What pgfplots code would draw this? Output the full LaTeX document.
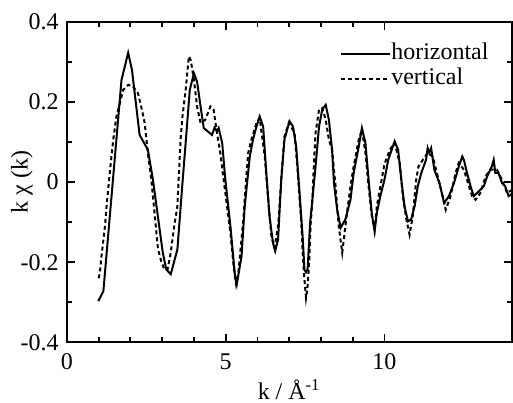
\documentclass[border=0pt]{standalone}
\usepackage{pgfplots}
\pgfplotsset{compat=1.18}
\usepackage{fontspec}
\setmainfont{Liberation Serif}
\begin{document}
\fontsize{12bp}{14bp}\selectfont
\begin{tikzpicture}
\useasboundingbox (-33.5bp,-30bp) rectangle (223.5bp,171.5bp);
\begin{axis}[
    at={(0,0)}, anchor=south west,
    scale only axis,
    width=222.75bp, height=160.5bp,
    xmin=0, xmax=14, ymin=-0.4, ymax=0.4,
    xtick={0,5,10}, xticklabels={0,5,10},
    ytick={-0.4,-0.2,0,0.2,0.4}, yticklabels={-0.4,-0.2,0,0.2,0.4},
    minor x tick num=4, minor y tick num=1,
    major tick length=4bp, minor tick length=2.5bp,
    axis line style={line width=1bp},
    every tick/.style={line width=0.9bp, black},
    xticklabel style={yshift=-1.5bp},
    xlabel={k / Å\textsuperscript{-1}},
    ylabel={k χ (k)},
    xlabel style={at={(axis description cs:0.5,-0.177)}, anchor=base},
    ylabel style={at={(axis description cs:-0.101,0.5)}, anchor=center},
    legend style={draw=none, fill=none, at={(axis description cs:0.601,0.952)}, anchor=north west,
        nodes={inner sep=0pt, text height=9bp, text depth=3.5bp},
        /tikz/every even column/.style={column sep=0pt}},
    legend cell align=left,
    legend image code/.code={\draw[#1] (0bp,0bp) -- (24.5bp,0bp);},
]
\addplot[black, line width=1bp] coordinates {
(0.99,-0.297) (1.15,-0.272) (1.72,0.255) (1.93,0.323) (2.05,0.28) (2.29,0.118)
(2.55,0.081) (2.71,0.006) (3.02,-0.176) (3.13,-0.218) (3.27,-0.230) (3.48,-0.168)
(3.64,-0.002) (3.74,0.098) (3.87,0.23) (4.00,0.272) (4.10,0.251) (4.21,0.189)
(4.31,0.135) (4.57,0.118) (4.65,0.136) (4.73,0.127) (4.78,0.135) (4.89,0.098)
(4.99,0.006) (5.15,-0.11) (5.30,-0.240) (5.35,-0.255) (5.50,-0.185) (5.60,-0.06)
(5.76,0.064) (5.86,0.106) (5.97,0.139) (6.07,0.164) (6.18,0.139) (6.28,0.023)
(6.38,-0.085) (6.49,-0.152) (6.56,-0.172) (6.65,-0.143) (6.75,0.006) (6.85,0.106)
(7.01,0.152) (7.12,0.139) (7.22,0.089) (7.32,-0.019) (7.43,-0.143) (7.48,-0.218)
(7.53,-0.225) (7.58,-0.218) (7.66,-0.10) (7.73,-0.044) (7.83,0.039) (7.94,0.139)
(8.04,0.181) (8.15,0.193) (8.25,0.156) (8.35,0.081) (8.41,-0.002) (8.51,-0.069)
(8.62,-0.114) (8.77,-0.093) (8.93,-0.044) (9.03,0.023) (9.19,0.089) (9.29,0.135)
(9.40,0.098) (9.50,0.006) (9.60,-0.077) (9.69,-0.123) (9.76,-0.077) (9.87,-0.035)
(10.00,0.006) (10.12,0.056) (10.32,0.102) (10.43,0.081) (10.53,0.006) (10.63,-0.06)
(10.74,-0.098) (10.84,-0.093) (10.95,-0.06) (11.05,-0.01) (11.16,0.023) (11.31,0.056)
(11.36,0.085) (11.41,0.073) (11.47,0.085) (11.57,0.031) (11.73,-0.002) (11.88,-0.052)
(12.03,-0.035) (12.19,-0.002) (12.34,0.039) (12.45,0.064) (12.50,0.056) (12.60,0.023)
(12.71,-0.01) (12.81,-0.035) (12.92,-0.027) (13.02,-0.019) (13.13,-0.01) (13.23,0.014)
(13.38,0.039) (13.44,0.056) (13.49,0.023) (13.59,0.023) (13.70,-0.002) (13.80,-0.01)
(13.91,-0.035) (14.0,-0.03)
};
\addlegendentry{horizontal}
\addplot[black, line width=1bp, dash pattern=on 2bp off 1.5bp] coordinates {
(1.00,-0.24) (1.04,-0.226) (1.09,-0.185) (1.20,-0.11) (1.25,-0.06) (1.35,0.023)
(1.46,0.106) (1.56,0.164) (1.67,0.197) (1.77,0.23) (1.93,0.243) (2.08,0.239)
(2.24,0.222) (2.34,0.189) (2.45,0.148) (2.55,0.073) (2.66,0.006) (2.76,-0.077)
(2.87,-0.168) (2.97,-0.197) (3.07,-0.218) (3.17,-0.218) (3.27,-0.176) (3.38,-0.11)
(3.48,-0.06) (3.58,0.106) (3.64,0.164) (3.74,0.23) (3.84,0.314) (3.90,0.305)
(4.00,0.256) (4.10,0.189) (4.21,0.148) (4.36,0.156) (4.52,0.189) (4.62,0.181)
(4.71,0.131) (4.83,0.073) (4.99,-0.027) (5.15,-0.127) (5.25,-0.21) (5.33,-0.255)
(5.40,-0.226) (5.55,-0.10) (5.66,0.023) (5.71,0.073) (5.81,0.106) (5.97,0.148)
(6.07,0.16) (6.23,0.064) (6.33,-0.035) (6.44,-0.135) (6.54,-0.164) (6.65,-0.11)
(6.75,0.006) (6.85,0.114) (6.99,0.148) (7.17,0.123) (7.27,0.023) (7.38,-0.10)
(7.43,-0.185) (7.48,-0.243) (7.53,-0.289) (7.58,-0.26) (7.63,-0.20) (7.68,-0.10)
(7.73,-0.044) (7.78,0.048) (7.83,0.123) (7.94,0.181) (8.04,0.185) (8.15,0.156)
(8.25,0.106) (8.35,0.081) (8.46,-0.01) (8.56,-0.11) (8.67,-0.176) (8.72,-0.143)
(8.82,-0.077) (8.93,-0.01) (9.03,0.039) (9.19,0.106) (9.29,0.131) (9.40,0.073)
(9.50,-0.01) (9.60,-0.085) (9.69,-0.118) (9.76,-0.06) (9.91,0.006) (10.00,0.045)
(10.17,0.081) (10.32,0.098) (10.48,0.048) (10.58,-0.035) (10.69,-0.093) (10.79,-0.131)
(10.89,-0.085) (11.00,0.006) (11.07,0.039) (11.21,0.056) (11.36,0.073) (11.52,0.064)
(11.68,0.014) (11.83,-0.035) (11.93,-0.069) (12.08,-0.035) (12.24,0.023) (12.34,0.048)
(12.50,0.031) (12.60,0.006) (12.76,-0.035) (12.87,-0.044) (13.02,-0.027) (13.18,0.014)
(13.33,0.031) (13.54,0.031) (13.70,0.006) (13.86,-0.027) (14.0,-0.02)
};
\addlegendentry{vertical}
\end{axis}
\end{tikzpicture}
\end{document}
